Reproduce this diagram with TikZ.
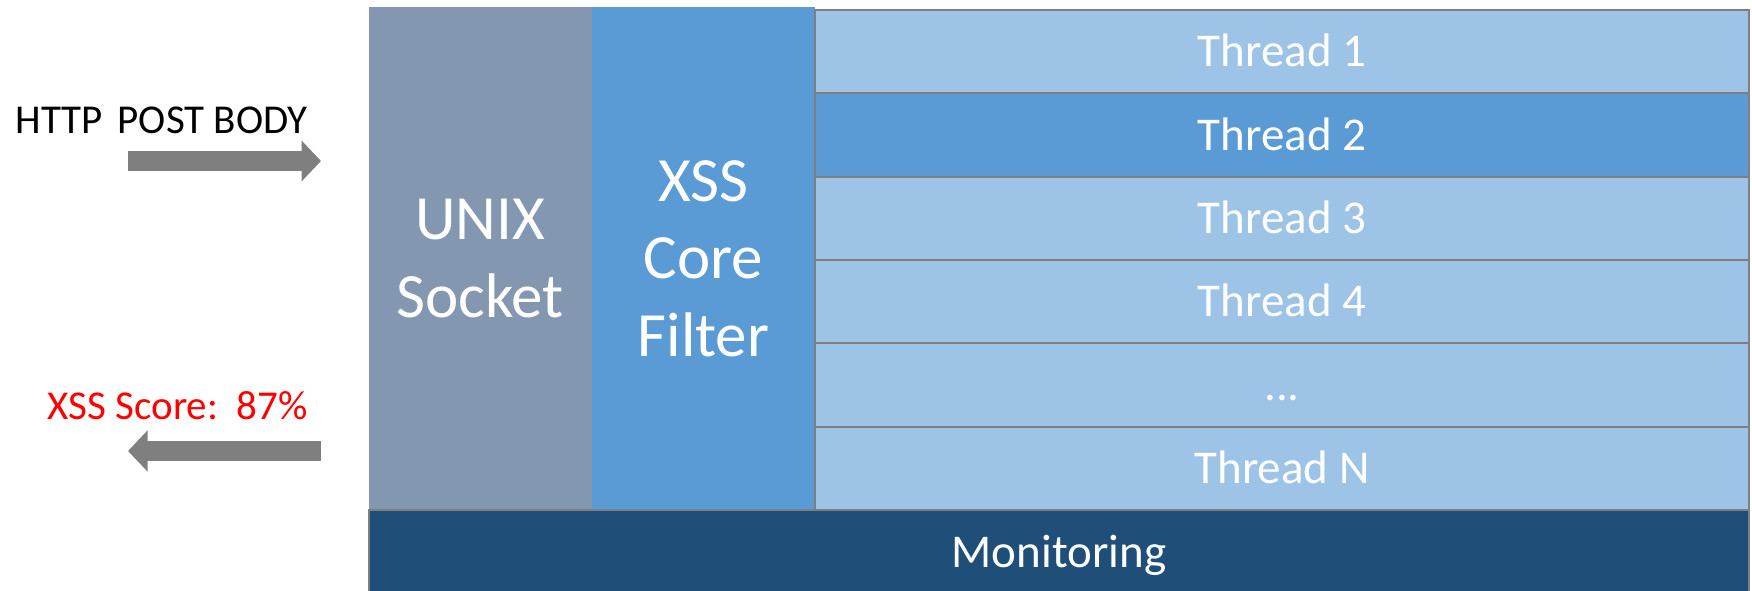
\documentclass[tikz,border=0pt]{standalone}
\usepackage{fontspec}
\setmainfont{Carlito}
\usetikzlibrary{arrows.meta}
\definecolor{sockfill}{HTML}{8497B0}
\definecolor{corefill}{HTML}{5B9BD5}
\definecolor{threadfill}{HTML}{9DC3E6}
\definecolor{monfill}{HTML}{1F4E79}
\definecolor{edgegrey}{HTML}{7F7F7F}
\definecolor{scorered}{HTML}{FF0000}
\begin{document}
\begin{tikzpicture}[x=1pt,y=-1pt,
  column/.style={rectangle, inner sep=0pt, minimum height=503pt,
    text=white, align=center, font=\fontsize{63}{77.5}\selectfont},
  threadrow/.style={rectangle, draw=edgegrey, line width=2pt, fill=threadfill,
    inner sep=0pt, minimum width=934pt, minimum height=83.33pt,
    text=white, text height=30pt, text depth=0pt,
    font=\fontsize{47}{56}\selectfont},
  monbar/.style={rectangle, draw=edgegrey, line width=2pt, fill=monfill,
    inner sep=0pt, minimum width=1380pt, minimum height=84pt,
    text=white, text height=30pt, text depth=0pt,
    font=\fontsize{47}{56}\selectfont},
  sidelabel/.style={inner sep=0pt, anchor=base east, font=\fontsize{41}{49}\selectfont},
  blockarrow/.style={draw=edgegrey, line width=20pt,
    -{Triangle[length=19.5pt,width=40pt]}}
]
\useasboundingbox (0,0) rectangle (1752,591);

% service columns
\node[column, fill=sockfill, minimum width=223.5pt] (sock) at (480.25,258.5) {UNIX\\Socket};
\node[column, fill=corefill, minimum width=223pt] (core) at (703.5,258.5) {XSS\\Core\\Filter};

% worker threads
\node[threadrow] (t1) at (1282,51.67) {Thread 1};
\node[threadrow, fill=corefill] (t2) at (1282,135) {Thread 2};
\node[threadrow] (t3) at (1282,218.33) {Thread 3};
\node[threadrow] (t4) at (1282,301.67) {Thread 4};
\node[threadrow] (t5) at (1282,385) {...};
\node[threadrow] (t6) at (1282,468.33) {Thread N};

% monitoring bar along the bottom
\node[monbar] (mon) at (1059,552) {Monitoring};

% request and response
\node[sidelabel] (http) at (308,133) {HTTP\hspace{0.36em}POST BODY};
\node[sidelabel, text=scorered] (score) at (308,419) {XSS Score:\ \ 87\%};

\coordinate (inTail) at (128,161);
\coordinate (inHead) at (321,161);
\coordinate (outTail) at (321,451);
\coordinate (outHead) at (128,451);
\draw[blockarrow] (inTail) -- (inHead);
\draw[blockarrow] (outTail) -- (outHead);
\end{tikzpicture}
\end{document}
